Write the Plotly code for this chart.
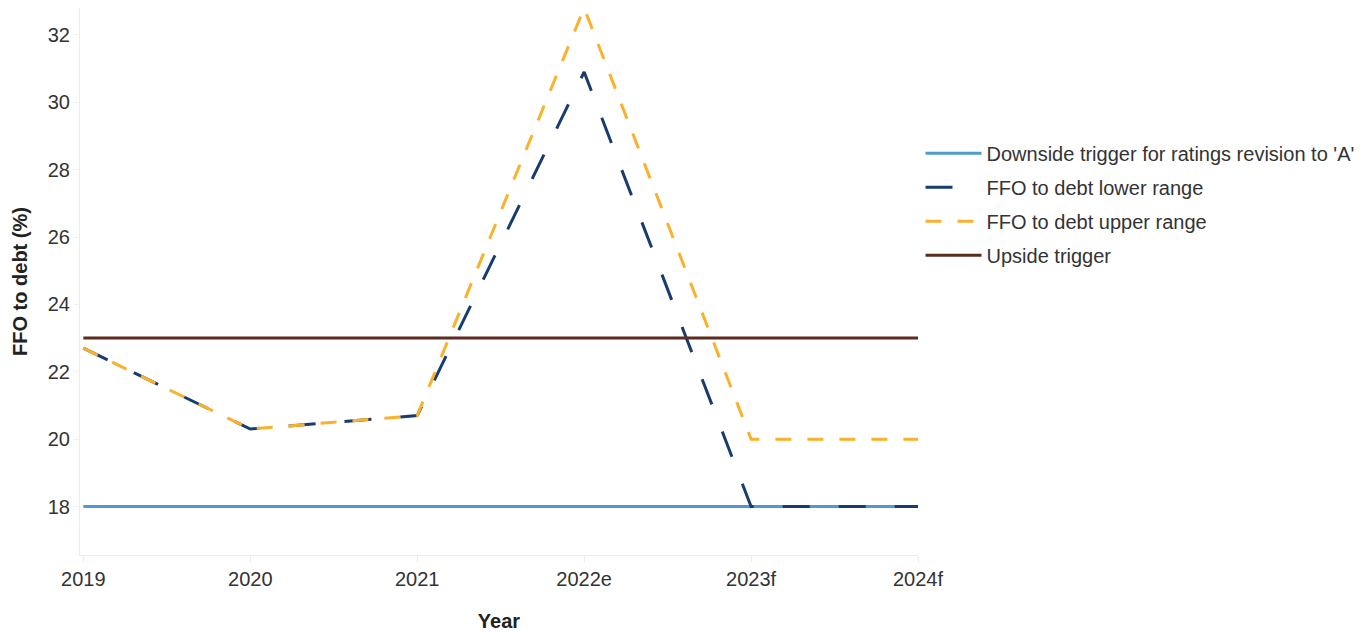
import plotly.graph_objects as go

# Years on the horizontal axis (e = estimate, f = forecast)
years = ["2019", "2020", "2021", "2022e", "2023f", "2024f"]

# FFO to debt ratio (%)
downside_trigger = [18, 18, 18, 18, 18, 18]
ffo_lower = [22.7, 20.3, 20.7, 30.9, 18, 18]
ffo_upper = [22.7, 20.3, 20.7, 32.8, 20, 20]
upside_trigger = [23, 23, 23, 23, 23, 23]

series_names = [
    "Downside trigger for ratings revision to 'A'",
    "FFO to debt lower range",
    "FFO to debt upper range",
    "Upside trigger",
]

fig = go.Figure()
fig.add_trace(go.Scatter(
    x=years, y=downside_trigger, name=series_names[0], mode="lines",
    legendgroup="g1",
    line=dict(color="#4f9ad0", width=3),
))
fig.add_trace(go.Scatter(
    x=years, y=ffo_lower, name=series_names[1], mode="lines",
    legendgroup="g2",
    line=dict(color="#183c6e", width=3, dash="27px,29px"),
))
fig.add_trace(go.Scatter(
    x=years, y=ffo_upper, name=series_names[2], mode="lines",
    legendgroup="g3",
    line=dict(color="#fbb12b", width=3, dash="16px,16px"),
))
fig.add_trace(go.Scatter(
    x=years, y=upside_trigger, name=series_names[3], mode="lines",
    legendgroup="g4",
    line=dict(color="#5a2d1f", width=3),
))

FONT = "Liberation Sans, Arial, sans-serif"
axis_font = dict(family=FONT, size=20, color="#333333")

fig.update_layout(
    width=1367, height=632,
    margin=dict(l=80, r=449, t=8, b=77, autoexpand=False),
    paper_bgcolor="white", plot_bgcolor="white",
    font=axis_font,
    showlegend=True,
    legend=dict(
        x=1.003, y=0.77, xanchor="left", yanchor="top",
        font=dict(family=FONT, size=20, color="#333333"),
        bgcolor="rgba(0,0,0,0)",
        itemwidth=56,
        tracegroupgap=5,
    ),
    xaxis=dict(
        title=dict(text="<b>Year</b>", font=dict(family=FONT, size=20, color="#222222"), standoff=26),
        automargin=False,
        range=[-0.02, 5],
        showgrid=False, zeroline=False,
        showline=True, linecolor="#e6edf5", linewidth=1,
        ticks="outside", tickcolor="#e6edf5", ticklen=6,
        tickfont=axis_font,
    ),
    yaxis=dict(
        title=dict(text="<b>FFO to debt (%)</b>", font=dict(family=FONT, size=20, color="#222222"), standoff=14),
        automargin=False,
        range=[16.56, 32.8],
        tickvals=[18, 20, 22, 24, 26, 28, 30, 32],
        showgrid=False, zeroline=False,
        showline=True, linecolor="#e6edf5", linewidth=1,
        ticks="outside", tickcolor="#f0f0f0", ticklen=5,
        tickfont=axis_font,
    ),
)

fig.write_html("out.html")
